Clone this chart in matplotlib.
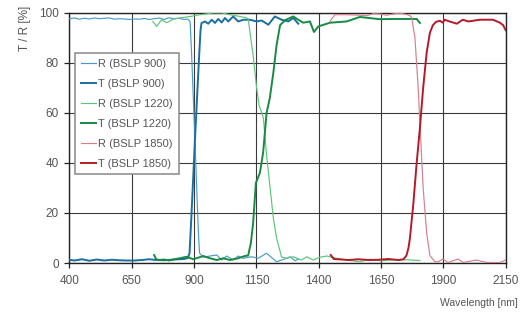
import matplotlib
matplotlib.use("Agg")
import matplotlib.pyplot as plt

# ---------------- data ----------------
x_ticks = [400, 650, 900, 1150, 1400, 1650, 1900, 2150]
y_ticks = [0, 20, 40, 60, 80, 100]

r900_nm = [400, 420, 440, 460, 480, 500, 520, 540, 560, 580, 600, 620, 640, 660, 680, 700, 720, 740, 760, 780,
           800, 820, 840, 860, 875, 884, 890, 897, 904, 911, 917, 922, 937, 964, 991, 1011, 1031, 1057, 1077, 1097,
           1131, 1157, 1191, 1231, 1271, 1285, 1305, 1318]
r900_val = [97.6, 97.9, 97.4, 97.8, 97.5, 97.9, 97.6, 97.8, 97.9, 97.4, 97.6, 97.5, 97.3, 97.5, 97.4, 97.7, 97.3, 97.6, 97.9, 97.3,
            98.0, 97.5, 97.8, 97.3, 97.5, 96.5, 84, 66, 48, 29, 13, 4, 2.3, 2.8, 3.2, 1.2, 2.8, 1.2, 2.8, 1.9,
            2.5, 1.9, 3.9, 0.5, 1.9, 2.5, 0.9, 1.5]

t900_nm = [400, 420, 450, 480, 510, 540, 570, 600, 630, 660, 690, 720, 750, 780, 810, 840, 860, 875, 882, 890,
           897, 904, 912, 920, 926, 930, 944, 957, 971, 984, 997, 1011, 1024, 1037, 1057, 1077, 1099, 1124, 1151, 1171,
           1198, 1224, 1251, 1278, 1298, 1318]
t900_val = [1.3, 1.0, 1.5, 0.9, 1.4, 1.0, 1.3, 1.1, 1.0, 1.0, 1.2, 1.5, 1.2, 1.1, 1.3, 1.5, 1.6, 2.0, 4, 20,
            35, 50, 66, 82, 93, 95.9, 96.5, 95.6, 97.2, 95.9, 97.5, 96.1, 97.9, 96.5, 98.5, 96.5, 97.2, 97.2, 96.5, 96.9,
            95.2, 98.5, 97.2, 96.5, 97.9, 95.6]

r1220_nm = [735, 750, 770, 790, 820, 843, 884, 924, 976, 1012, 1044, 1084, 1112, 1117, 1137, 1151, 1161, 1178, 1191, 1204,
            1218, 1231, 1251, 1271, 1298, 1331, 1352, 1378, 1405, 1432, 1472, 1512, 1565, 1605, 1645, 1700, 1750, 1806]
r1220_val = [96.5, 94.5, 97.2, 96.0, 97.6, 97.9, 98.5, 99.2, 99.9, 99.9, 99.2, 98.5, 97.9, 97.5, 83, 70, 63, 58, 43, 31,
             18, 10, 2.4, 1.9, 2.5, 1.2, 2.5, 1.2, 2.3, 2.8, 1.9, 1.2, 0.5, 1.5, 0.9, 1.2, 1.3, 1.0]

t1220_nm = [740, 748, 760, 780, 800, 820, 843, 870, 897, 937, 964, 991, 1017, 1044, 1077, 1104, 1117, 1128, 1137, 1148,
            1164, 1177, 1191, 1204, 1218, 1231, 1245, 1265, 1298, 1318, 1338, 1365, 1381, 1398, 1445, 1512, 1565, 1645, 1697, 1793,
            1806]
t1220_val = [3.2, 1.5, 1.2, 1.4, 1.0, 1.5, 1.9, 2.5, 1.5, 2.8, 1.9, 1.2, 1.9, 1.2, 1.9, 2.8, 3.0, 8, 16, 32,
             36, 44, 60, 66, 76, 87, 95, 97, 98.5, 97.2, 96, 96.5, 92.3, 94.5, 96, 96.5, 98.3, 97.4, 97.5, 97.5,
             95.9]

r1850_nm = [1445, 1465, 1512, 1565, 1592, 1619, 1645, 1672, 1699, 1726, 1753, 1766, 1773, 1786, 1799, 1809, 1819, 1833, 1846, 1866,
            1879, 1899, 1919, 1959, 1979, 2033, 2073, 2127, 2150]
r1850_val = [96.5, 99.2, 99.2, 99.0, 98.8, 99.6, 99.5, 99.0, 99.5, 99.8, 99.3, 98.8, 98.0, 90, 70, 50, 30, 12, 3, 0.5,
             0.5, 1.6, 0.2, 1.6, 0.2, 1.2, 0.2, 0.2, 1.2]

t1850_nm = [1448, 1460, 1490, 1520, 1560, 1600, 1640, 1680, 1720, 1740, 1752, 1760, 1766, 1779, 1793, 1806, 1819, 1833, 1846, 1858,
            1870, 1886, 1898, 1905, 1925, 1954, 1978, 2000, 2047, 2099, 2127, 2140, 2150]
t1850_val = [3.2, 1.6, 1.4, 1.2, 1.5, 1.2, 1.3, 1.6, 1.2, 1.5, 3, 6, 10, 23, 40, 54, 70, 84, 92, 95,
             96.3, 96.8, 96, 97.2, 96.5, 95.6, 97.2, 96.5, 97.2, 97.2, 96, 95, 93]

labels = ["R (BSLP 900)", "T (BSLP 900)", "R (BSLP 1220)", "T (BSLP 1220)", "R (BSLP 1850)", "T (BSLP 1850)"]

# ---------------- figure ----------------
plt.rcParams['font.family'] = ['Liberation Sans', 'DejaVu Sans']
fig = plt.figure(figsize=(5.21, 3.13), dpi=100)
ax = fig.add_axes([0.1332, 0.1597, 0.9706 - 0.1332, 0.9594 - 0.1597])

series = [
    (r900_nm, r900_val, '#4a9bc9', 0.85),
    (t900_nm, t900_val, '#1b6fa0', 1.4),
    (r1220_nm, r1220_val, '#5cc57a', 0.85),
    (t1220_nm, t1220_val, '#178a43', 1.4),
    (r1850_nm, r1850_val, '#d77f8c', 0.85),
    (t1850_nm, t1850_val, '#b31b2b', 1.4),
]
for (xs, ys, c, lw), lab in zip(series, labels):
    ax.plot(xs, ys, color=c, lw=lw, label=lab, zorder=3)

ax.set_xlim(400, 2150)
ax.set_ylim(0, 100)
ax.set_xticks(x_ticks)
ax.set_yticks(y_ticks)
ax.grid(True, color='#3a3a3a', lw=0.8, zorder=1)
ax.set_axisbelow(True)
for s in ax.spines.values():
    s.set_color('#222222')
    s.set_linewidth(1.0)
ax.tick_params(axis='both', direction='out', length=3.6, width=0.9, color='#222222',
               labelsize=8.5, labelcolor='#555555')
ax.tick_params(axis='x', pad=5)
ax.tick_params(axis='y', pad=4)

fig.text(25 / 521, 1 - 6 / 313, "T / R [%]", rotation=90, ha='center', va='top',
         fontsize=8.5, color='#555555')
fig.text(518 / 521, 1 - 306 / 313, "Wavelength [nm]", ha='right', va='baseline',
         fontsize=7.5, color='#555555')

leg = ax.legend(loc='upper left', bbox_to_anchor=(0.013, 0.839), borderaxespad=0,
                fontsize=8, handlelength=1.4, handletextpad=0.2, labelspacing=0.9,
                borderpad=0.5, fancybox=False, framealpha=1, edgecolor='#888888')
leg.get_frame().set_linewidth(1.1)
for t in leg.get_texts():
    t.set_color('#555555')
leg.set_zorder(5)

fig.savefig("out.png", dpi=100)
